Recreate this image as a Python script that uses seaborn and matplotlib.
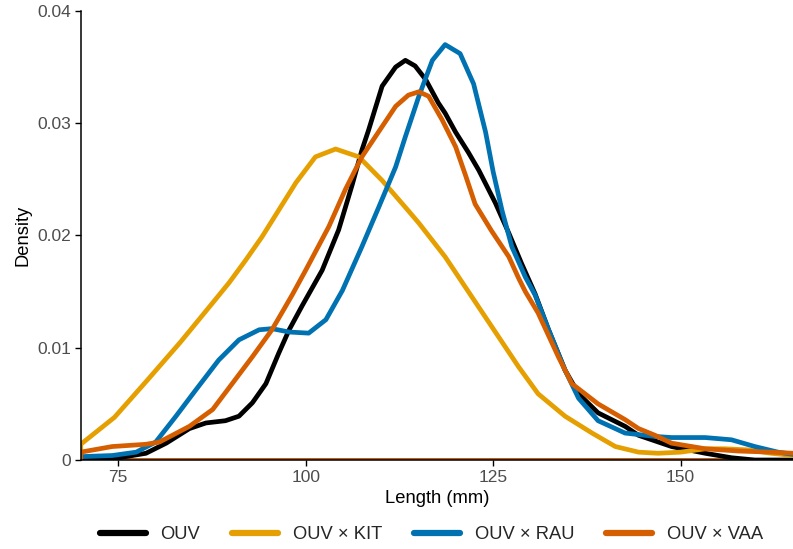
import numpy as np
import pandas as pd
import matplotlib
matplotlib.use("Agg")
import matplotlib.pyplot as plt
import seaborn as sns
from matplotlib.lines import Line2D

groups = ["OUV", "OUV × KIT", "OUV × RAU", "OUV × VAA"]
colors = ["#000000", "#E69F00", "#0072B2", "#D55E00"]

ouv_x = [70, 73, 75.1, 78.7, 81.4, 84.5, 86.7, 89.3, 91.1, 92.9, 94.7, 96.4, 97.8, 99.5, 102.2,
         104.4, 106.2, 107.5, 108.4, 110.2, 112.0, 113.3, 114.6, 116.0, 117.7, 118.6, 120.0, 121.7,
         123.1, 125.3, 127.1, 128.8, 130.6, 132.4, 134.6, 136.4, 139.0, 142.6, 144.4, 146.6, 148.8,
         153.3, 156.8, 159.9, 165]
ouv_y = [0, 0, 0.0002, 0.0006, 0.0015, 0.0028, 0.0033, 0.0035, 0.0039, 0.0051, 0.0068, 0.0095, 0.0116,
         0.0137, 0.0169, 0.0205, 0.0245, 0.0276, 0.0294, 0.0333, 0.0350, 0.0356, 0.0351, 0.0339,
         0.0318, 0.0309, 0.0292, 0.0274, 0.0258, 0.0229, 0.0202, 0.0175, 0.0148, 0.0116, 0.0080,
         0.0059, 0.0042, 0.0030, 0.0022, 0.0017, 0.0012, 0.0006, 0.0002, 0, 0]

kit_x = [70, 70, 74.5, 79.0, 83.3, 87.6, 89.8, 92.0, 94.2, 98.7, 101.3, 104.0, 107.1, 110.2, 113.7,
         115.1, 118.6, 122.2, 125.7, 128.4, 131.0, 134.6, 138.2, 141.3, 144.4, 147.0, 150.0, 153.3,
         155.9, 159.0, 162.1, 165]
kit_y = [0, 0.0014, 0.0038, 0.0072, 0.0105, 0.0140, 0.0158, 0.0178, 0.0199, 0.0247, 0.0270, 0.0277,
         0.0270, 0.0249, 0.0222, 0.0211, 0.0181, 0.0145, 0.0110, 0.0083, 0.0059, 0.0039, 0.0024,
         0.0012, 0.0007, 0.0006, 0.0007, 0.0010, 0.0010, 0.0009, 0.0006, 0.0004]

rau_x = [70, 74.2, 77.4, 80.0, 82.7, 85.3, 88.4, 91.1, 93.8, 95.5, 97.8, 100.4, 102.7, 104.9, 107.5,
         109.8, 112.0, 113.3, 115.1, 116.9, 118.6, 120.6, 122.4, 124.0, 125.0, 126.2, 127.5, 129.3,
         130.6, 132.4, 134.6, 136.4, 139.0, 142.6, 146.6, 148.8, 153.3, 156.8, 159.9, 163.0, 165]
rau_y = [0.0003, 0.0004, 0.0007, 0.0016, 0.0039, 0.0062, 0.0089, 0.0107, 0.0116, 0.0117, 0.0114,
         0.0113, 0.0125, 0.0151, 0.0190, 0.0226, 0.0261, 0.0288, 0.0324, 0.0356, 0.0370, 0.0362,
         0.0335, 0.0292, 0.0257, 0.0222, 0.0190, 0.0163, 0.0147, 0.0116, 0.0080, 0.0055, 0.0035,
         0.0024, 0.0021, 0.0020, 0.0020, 0.0018, 0.0012, 0.0007, 0.0005]

vaa_x = [70, 70, 74.2, 78.7, 80.5, 84.5, 87.6, 90.2, 92.9, 95.5, 96.9, 98.2, 100.0, 103.1, 105.3,
         107.5, 109.3, 110.2, 112.0, 113.7, 115.1, 116.4, 118.2, 120.0, 121.3, 122.6, 124.8, 127.1,
         128.4, 129.3, 131.0, 133.7, 135.5, 139.0, 142.6, 144.4, 146.6, 148.8, 153.3, 157.7, 162.1,
         165]
vaa_y = [0, 0.0007, 0.0012, 0.0014, 0.0016, 0.0030, 0.0045, 0.0068, 0.0092, 0.0116, 0.0132, 0.0147,
         0.0169, 0.0208, 0.0241, 0.0270, 0.0288, 0.0297, 0.0315, 0.0325, 0.0328, 0.0324, 0.0303,
         0.0279, 0.0254, 0.0228, 0.0204, 0.0181, 0.0162, 0.0150, 0.0131, 0.0092, 0.0068, 0.0050,
         0.0036, 0.0028, 0.0022, 0.0015, 0.0010, 0.0008, 0.0007, 0.0006]

xs = [ouv_x, kit_x, rau_x, vaa_x]
ys = [ouv_y, kit_y, rau_y, vaa_y]

frames = []
for g, x, y in zip(groups, xs, ys):
    frames.append(pd.DataFrame({"Length": x, "Density": y, "Group": g}))
df = pd.concat(frames, ignore_index=True)

sns.set_theme(style="ticks")
plt.rcParams["font.family"] = ["Liberation Sans", "DejaVu Sans"]

fig = plt.figure(figsize=(7.93, 5.49), dpi=100)
ax = fig.add_axes([0.1018, 0.1621, 0.8982, 0.818])

sns.lineplot(data=df, x="Length", y="Density", hue="Group", hue_order=groups,
             palette=colors, sort=False, estimator=None,
             linewidth=3.4, ax=ax, legend=False)
for ln in ax.get_lines():
    ln.set_solid_joinstyle("round")
    ln.set_solid_capstyle("round")

for c in colors:
    ax.axhline(0, color=c, lw=3.4, zorder=1.9)

ax.set_xlim(70, 165)
ax.set_ylim(0, 0.04)
ax.set_xticks([75, 100, 125, 150])
ax.set_yticks([0, 0.01, 0.02, 0.03, 0.04])
ax.set_yticklabels(["0", "0.01", "0.02", "0.03", "0.04"])
ax.tick_params(axis="both", colors="black", labelcolor="#4D4D4D", labelsize=12.5,
               length=4, width=1, pad=3)
ax.set_xlabel("Length (mm)", fontsize=13.2, color="black", labelpad=4)
ax.set_ylabel("Density", fontsize=13.2, color="black", labelpad=4)
for s in ["top", "right"]:
    ax.spines[s].set_visible(False)
for s in ["left", "bottom"]:
    ax.spines[s].set_color("black")
    ax.spines[s].set_linewidth(1.1)
    ax.spines[s].set_zorder(5)

handles = [Line2D([], [], color=c, lw=4.5) for c in colors]
fig.legend(handles, groups, loc="center", bbox_to_anchor=(0.544, 0.026), ncol=4,
           frameon=False, fontsize=13.2, handlelength=2.5, columnspacing=1.75,
           handletextpad=0.8, borderaxespad=0)

fig.savefig("out.png", dpi=100)
